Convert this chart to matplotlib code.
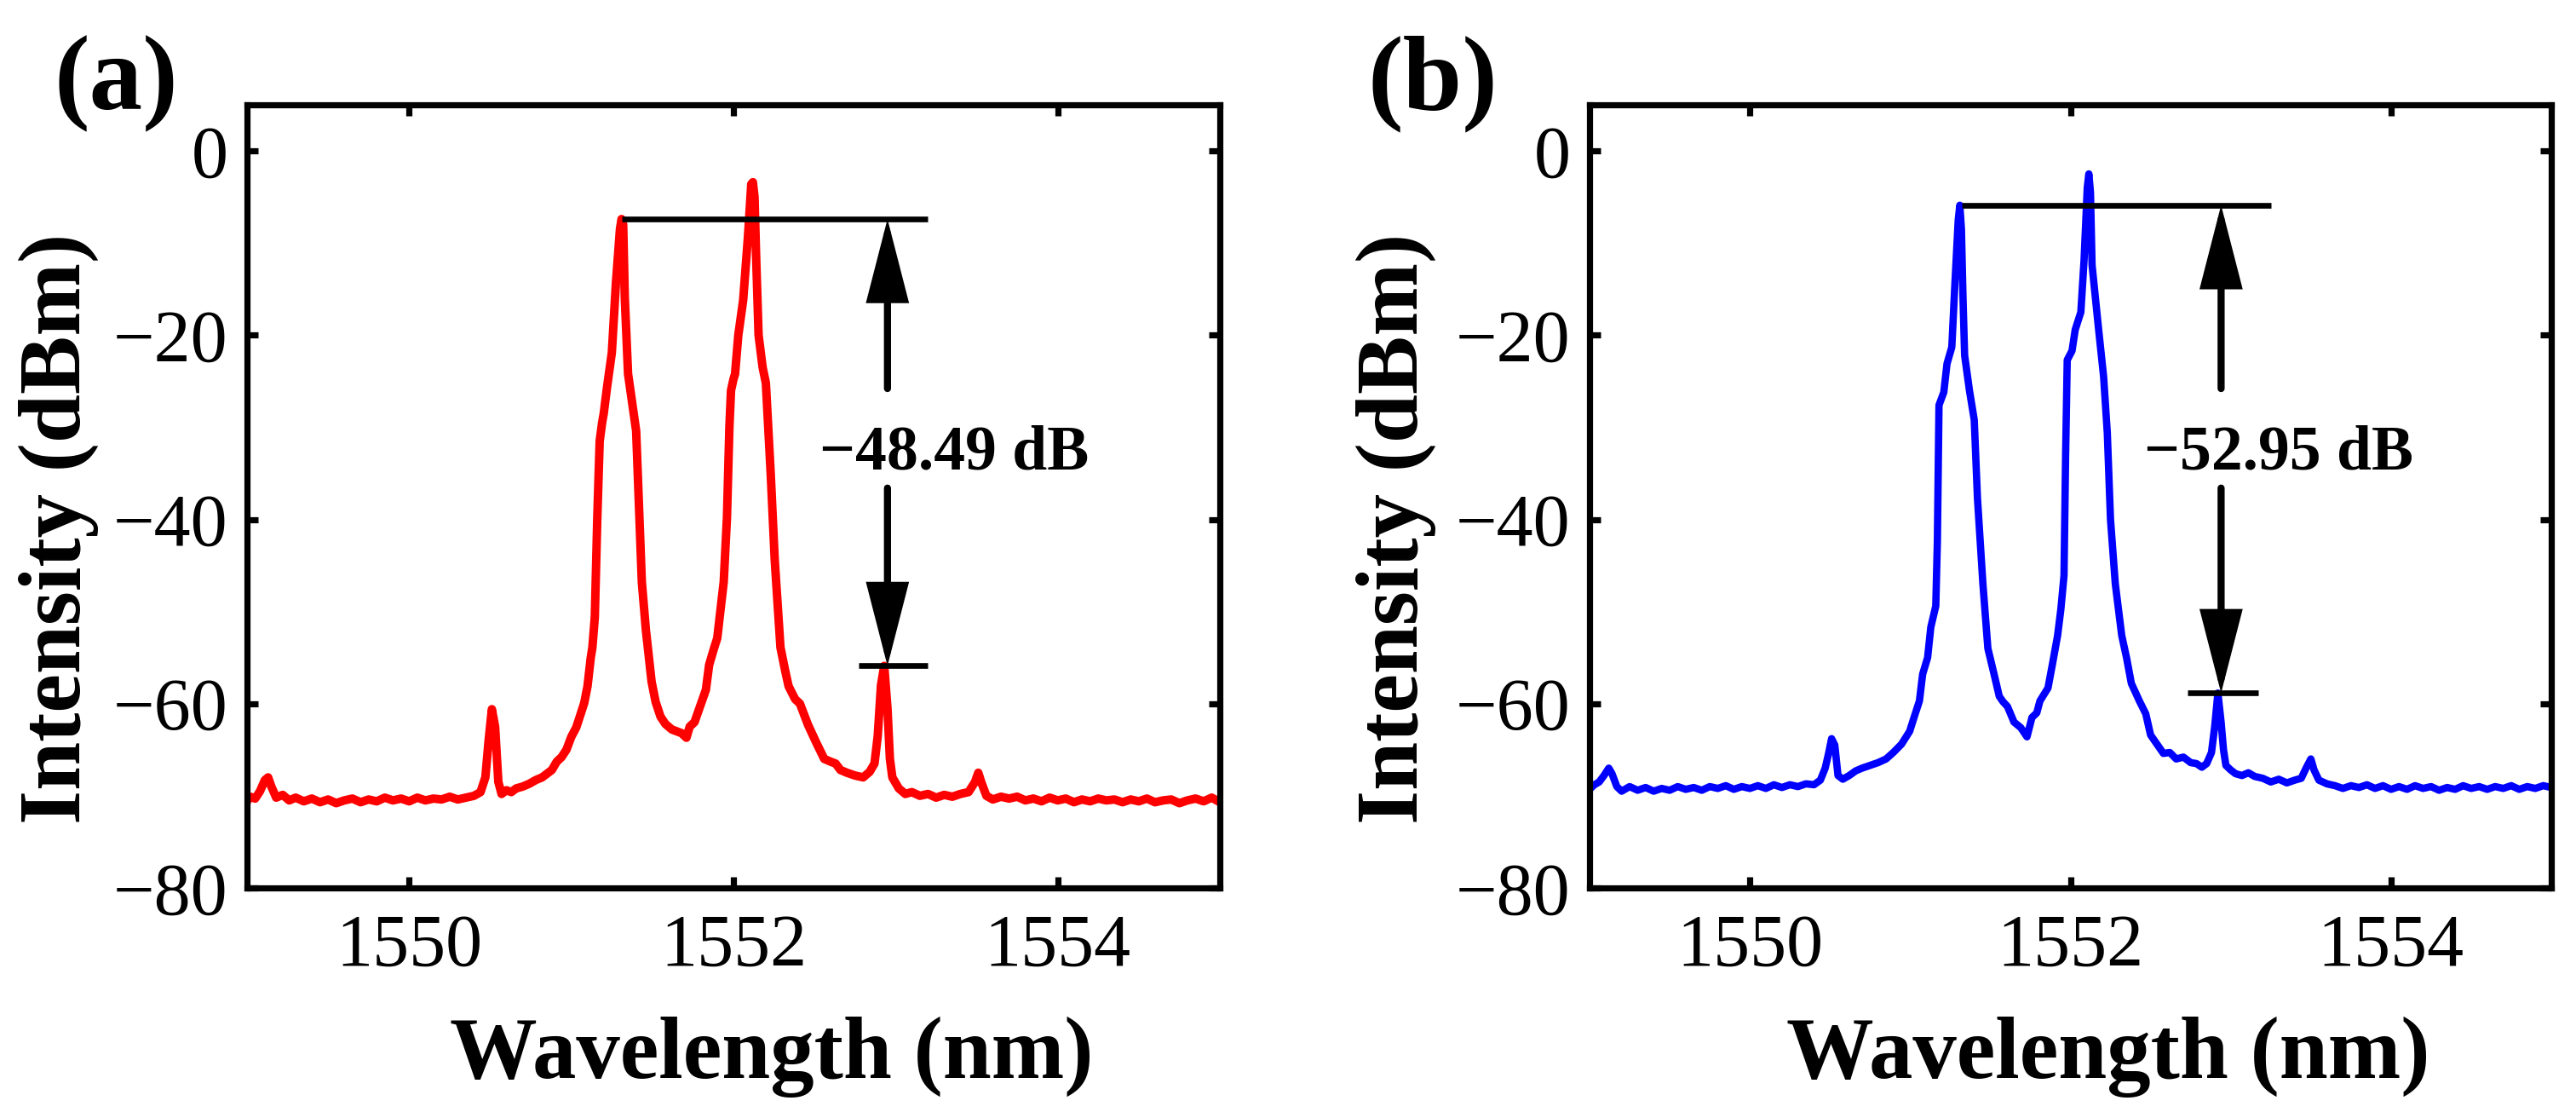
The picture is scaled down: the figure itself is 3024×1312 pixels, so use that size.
import matplotlib
matplotlib.use("Agg")
import matplotlib.pyplot as plt
from matplotlib.patches import FancyArrowPatch

plt.rcParams['font.family'] = ['Liberation Serif', 'DejaVu Serif']
plt.rcParams['mathtext.fontset'] = 'stix'

# ---------------- data ----------------
wl_a = [1549.00, 1549.02, 1549.05, 1549.08, 1549.11, 1549.13, 1549.15, 1549.18, 1549.22, 1549.26,
        1549.30, 1549.35, 1549.40, 1549.45, 1549.50, 1549.55, 1549.60, 1549.65, 1549.70, 1549.75,
        1549.80, 1549.85, 1549.90, 1549.95, 1550.00, 1550.05, 1550.10, 1550.15, 1550.20, 1550.25,
        1550.30, 1550.35, 1550.40, 1550.44, 1550.47, 1550.49, 1550.51, 1550.53, 1550.55, 1550.57,
        1550.60, 1550.63, 1550.66, 1550.70, 1550.74, 1550.78, 1550.82, 1550.85, 1550.88, 1550.91,
        1550.94, 1550.97, 1551.00, 1551.03, 1551.06, 1551.08, 1551.10, 1551.12, 1551.13, 1551.145,
        1551.16, 1551.175, 1551.19, 1551.20, 1551.22, 1551.25, 1551.275, 1551.30, 1551.31, 1551.32,
        1551.33, 1551.35, 1551.385, 1551.40, 1551.42, 1551.435, 1551.46, 1551.495, 1551.52, 1551.55,
        1551.58, 1551.62, 1551.65, 1551.68, 1551.71, 1551.73, 1551.76, 1551.80, 1551.83, 1551.85,
        1551.88, 1551.90, 1551.94, 1551.96, 1551.975, 1551.985, 1552.00, 1552.01, 1552.03, 1552.06,
        1552.09, 1552.11, 1552.12, 1552.13, 1552.14, 1552.155, 1552.18, 1552.20, 1552.23, 1552.255,
        1552.29, 1552.32, 1552.34, 1552.38, 1552.41, 1552.46, 1552.51, 1552.56, 1552.60, 1552.63,
        1552.66, 1552.70, 1552.75, 1552.80, 1552.84, 1552.87, 1552.89, 1552.91, 1552.93, 1552.95,
        1552.965, 1552.98, 1553.02, 1553.06, 1553.10, 1553.15, 1553.20, 1553.25, 1553.30, 1553.35,
        1553.40, 1553.45, 1553.49, 1553.51, 1553.53, 1553.56, 1553.60, 1553.65, 1553.70, 1553.75,
        1553.80, 1553.85, 1553.90, 1553.95, 1554.00, 1554.05, 1554.10, 1554.15, 1554.20, 1554.25,
        1554.30, 1554.35, 1554.40, 1554.45, 1554.50, 1554.55, 1554.60, 1554.65, 1554.70, 1554.75,
        1554.80, 1554.85, 1554.90, 1554.95, 1555.00]
int_a = [-70.6, -70.1, -70.3, -69.5, -68.3, -68.0, -69.0, -70.2, -69.9, -70.5,
         -70.2, -70.6, -70.3, -70.7, -70.4, -70.8, -70.5, -70.3, -70.7, -70.4,
         -70.6, -70.2, -70.5, -70.3, -70.6, -70.2, -70.5, -70.3, -70.4, -70.1,
         -70.4, -70.2, -70.0, -69.6, -68.0, -64.0, -60.6, -62.5, -68.5, -69.8,
         -69.4, -69.6, -69.2, -69.0, -68.7, -68.3, -68.0, -67.6, -67.2, -66.3,
         -65.8, -65.0, -63.6, -62.6, -61.0, -59.9, -58.1, -55.0, -53.9, -50.6,
         -40.0, -31.5, -29.5, -28.5, -25.7, -21.9, -14.4, -8.5, -7.4, -8.0,
         -16.0, -24.2, -28.5, -30.4, -39.8, -46.8, -52.0, -57.6, -59.8, -61.4,
         -62.2, -62.8, -63.0, -63.2, -63.7, -62.5, -62.0, -60.0, -58.5, -55.8,
         -54.0, -52.9, -46.8, -39.8, -30.0, -26.0, -24.8, -24.2, -20.0, -16.2,
         -9.2, -3.6, -3.4, -5.0, -11.5, -20.0, -23.5, -25.2, -35.1, -44.5,
         -53.9, -56.5, -58.1, -59.5, -60.0, -62.3, -64.2, -66.0, -66.3, -66.5,
         -67.2, -67.5, -67.8, -68.0, -67.4, -66.5, -63.5, -58.0, -55.9, -60.5,
         -66.0, -68.0, -69.2, -69.8, -69.6, -70.0, -69.8, -70.2, -69.9, -70.1,
         -69.8, -69.6, -68.5, -67.5, -68.6, -70.0, -70.4, -70.1, -70.3, -70.1,
         -70.5, -70.3, -70.6, -70.2, -70.5, -70.3, -70.7, -70.4, -70.6, -70.3,
         -70.5, -70.4, -70.7, -70.4, -70.6, -70.3, -70.7, -70.5, -70.4, -70.8,
         -70.5, -70.3, -70.6, -70.2, -70.7]

wl_b = [1549.00, 1549.03, 1549.06, 1549.09, 1549.12, 1549.14, 1549.17, 1549.20, 1549.25, 1549.30,
        1549.35, 1549.40, 1549.45, 1549.50, 1549.55, 1549.60, 1549.65, 1549.70, 1549.75, 1549.80,
        1549.85, 1549.90, 1549.95, 1550.00, 1550.05, 1550.10, 1550.15, 1550.20, 1550.25, 1550.30,
        1550.35, 1550.40, 1550.44, 1550.47, 1550.49, 1550.51, 1550.53, 1550.55, 1550.58, 1550.62,
        1550.66, 1550.70, 1550.75, 1550.80, 1550.85, 1550.895, 1550.946, 1550.997, 1551.028, 1551.058,
        1551.078, 1551.095, 1551.109, 1551.129, 1551.16, 1551.17, 1551.18, 1551.21, 1551.23, 1551.26,
        1551.28, 1551.30, 1551.31, 1551.32, 1551.33, 1551.34, 1551.37, 1551.40, 1551.42, 1551.454,
        1551.485, 1551.525, 1551.556, 1551.58, 1551.607, 1551.648, 1551.69, 1551.729, 1551.76, 1551.79,
        1551.81, 1551.86, 1551.89, 1551.92, 1551.94, 1551.96, 1551.97, 1551.98, 1552.01, 1552.03,
        1552.065, 1552.085, 1552.105, 1552.115, 1552.125, 1552.135, 1552.176, 1552.207, 1552.23, 1552.25,
        1552.28, 1552.32, 1552.35, 1552.38, 1552.43, 1552.47, 1552.50, 1552.54, 1552.58, 1552.62,
        1552.66, 1552.705, 1552.75, 1552.786, 1552.82, 1552.85, 1552.88, 1552.90, 1552.92, 1552.94,
        1552.955, 1552.97, 1553.00, 1553.03, 1553.07, 1553.11, 1553.15, 1553.20, 1553.25, 1553.30,
        1553.35, 1553.40, 1553.44, 1553.47, 1553.50, 1553.52, 1553.55, 1553.60, 1553.65, 1553.70,
        1553.75, 1553.80, 1553.85, 1553.90, 1553.95, 1554.00, 1554.05, 1554.10, 1554.15, 1554.20,
        1554.25, 1554.30, 1554.35, 1554.40, 1554.45, 1554.50, 1554.55, 1554.60, 1554.65, 1554.70,
        1554.75, 1554.80, 1554.85, 1554.90, 1554.95, 1555.00]
int_b = [-69.3, -68.8, -68.5, -67.8, -67.0, -67.6, -69.0, -69.5, -69.0, -69.4,
         -69.1, -69.5, -69.2, -69.4, -69.0, -69.3, -69.1, -69.4, -69.0, -69.2,
         -68.9, -69.3, -69.0, -69.2, -68.9, -69.2, -68.8, -69.1, -68.8, -69.0,
         -68.7, -68.8, -68.3, -67.0, -65.5, -63.8, -64.5, -67.8, -68.2, -67.8,
         -67.3, -67.0, -66.7, -66.4, -66.0, -65.3, -64.4, -63.0, -61.3, -59.7,
         -56.8, -55.8, -55.0, -51.7, -49.4, -42.3, -27.6, -26.2, -23.1, -21.3,
         -14.2, -7.5, -5.9, -8.5, -16.1, -22.2, -26.0, -29.2, -37.7, -47.0,
         -54.0, -56.9, -59.2, -59.8, -60.3, -62.0, -62.6, -63.6, -61.5, -61.0,
         -59.7, -58.3, -55.5, -52.6, -49.8, -46.1, -33.0, -22.7, -21.7, -19.4,
         -17.5, -11.9, -4.0, -2.5, -4.5, -12.4, -19.4, -24.5, -30.6, -40.0,
         -47.0, -52.6, -55.0, -57.8, -59.7, -61.1, -63.4, -64.4, -65.4, -65.3,
         -66.0, -65.8, -66.4, -66.5, -66.9, -66.5, -65.3, -62.5, -58.85, -62.0,
         -65.0, -66.7, -67.2, -67.6, -67.8, -67.5, -67.9, -68.1, -68.5, -68.2,
         -68.6, -68.3, -68.1, -67.0, -66.0, -67.2, -68.3, -68.7, -68.9, -69.2,
         -68.9, -69.1, -68.8, -69.2, -68.9, -69.3, -69.0, -69.3, -68.9, -69.2,
         -69.0, -69.4, -69.1, -69.3, -68.9, -69.2, -69.0, -69.3, -69.0, -69.2,
         -68.9, -69.3, -69.0, -69.2, -68.9, -69.1]

# annotation values: (upper level, lower level, label)
ann_a = (-7.4, -55.9, "\u221248.49 dB")
ann_b = (-5.9, -58.85, "\u221252.95 dB")

x_ticks = [1550, 1552, 1554]
y_ticks = [0, -20, -40, -60, -80]

# ---------------- figure ----------------
fig = plt.figure(figsize=(15.12, 6.56), dpi=200)
W, H = 3024.0, 1312.0
ax_a = fig.add_axes([290 / W, 1 - 1042 / H, 1142 / W, 919 / H])
ax_b = fig.add_axes([1866 / W, 1 - 1042 / H, 1129 / W, 919 / H])


def style(ax, ylab_x):
    ax.set_xlim(1549, 1555)
    ax.set_ylim(-80, 5)
    ax.set_xticks(x_ticks)
    ax.set_yticks(y_ticks)
    ax.minorticks_off()
    ax.tick_params(axis='both', which='major', direction='in', length=4.6, width=2.6,
                   top=True, right=True, labelsize=31, colors='black')
    ax.tick_params(axis='x', pad=11)
    ax.tick_params(axis='y', pad=8)
    for sp in ax.spines.values():
        sp.set_linewidth(2.6)
        sp.set_color('black')
    ax.set_xlabel('Wavelength (nm)', fontsize=37, fontweight='bold', va='baseline')
    ax.xaxis.set_label_coords(0.539, -0.243)
    ax.set_ylabel('Intensity (dBm)', fontsize=37, fontweight='bold', va='baseline')
    ax.yaxis.set_label_coords(ylab_x, 0.459)


def annotate(ax, ann, x_top0, x_top1, x_low0, x_low1, x_arrow, x_text):
    top, low, label = ann
    ax.plot([x_top0, x_top1], [top, top], color='black', lw=2.4, solid_capstyle='butt')
    ax.plot([x_low0, x_low1], [low, low], color='black', lw=2.4, solid_capstyle='butt')
    for start, end in ((-25.8, top), (-36.6, low)):
        arr = FancyArrowPatch((x_arrow, start), (x_arrow, end),
                              arrowstyle='-|>,head_length=28,head_width=7.2',
                              mutation_scale=1, lw=3.0, color='black',
                              shrinkA=0, shrinkB=0, joinstyle='miter')
        ax.add_patch(arr)
    ax.text(x_text, -34.5, label, fontsize=26.5, fontweight='bold',
            ha='center', va='baseline')


ax_a.plot(wl_a, int_a, color='#ff0000', lw=3.6, solid_joinstyle='round')
style(ax_a, -0.1716)
annotate(ax_a, ann_a, 1551.31, 1553.2, 1552.77, 1553.2, 1552.95, 1553.36)

ax_b.plot(wl_b, int_b, color='#0000ff', lw=3.1, solid_joinstyle='round')
style(ax_b, -0.179)
annotate(ax_b, ann_b, 1551.32, 1553.25, 1552.73, 1553.17, 1552.94, 1553.3)

fig.text(136 / W, 1 - 128 / H, '(a)', fontsize=45, fontweight='bold', ha='center', va='baseline')
fig.text(1682 / W, 1 - 128 / H, '(b)', fontsize=45, fontweight='bold', ha='center', va='baseline')

fig.savefig('out.png', dpi=200, facecolor='white')
